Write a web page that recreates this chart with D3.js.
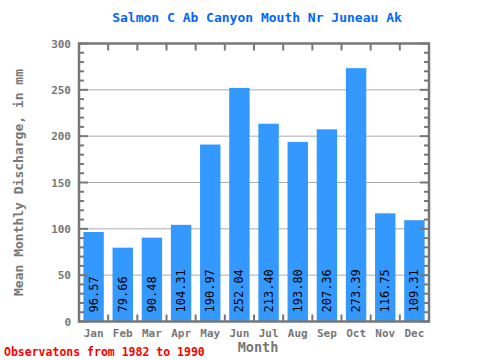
<!DOCTYPE html>
<html><head><meta charset="utf-8">
<script src="https://cdn.jsdelivr.net/npm/d3@7"></script>
<style>body{margin:0;background:#fff}svg{display:block}</style>
</head><body>
<script>
const months = ["Jan","Feb","Mar","Apr","May","Jun","Jul","Aug","Sep","Oct","Nov","Dec"];
const values = [96.57,79.66,90.48,104.31,190.97,252.04,213.40,193.80,207.36,273.39,116.75,109.31];
const yTicks = [0,50,100,150,200,250,300];
const title = "Salmon C Ab Canyon Mouth Nr Juneau Ak";
const yLabel = "Mean Monthly Discharge, in mm";
const xLabel = "Month";
const footer = "Observatons from 1982 to 1990";

const W = 480, H = 360;
const m = {l:79, r:429, t:43.5, b:321.5};
const font = "'DejaVu Sans Mono', monospace";
const grey = "#777";

const svg = d3.select("body").append("svg").attr("width", W).attr("height", H);
const x = d3.scaleBand().domain(months).range([m.l, m.r]).paddingInner(0.3).paddingOuter(0.15);
const xb = d3.scaleLinear().domain([0,12]).range([m.l, m.r]);
const y = d3.scaleLinear().domain([0,300]).range([m.b, m.t]);

// gridlines
svg.append("g").selectAll("line").data(yTicks.filter(d=>d>0 && d<300)).join("line")
  .attr("x1", m.l).attr("x2", m.r).attr("y1", d=>y(d)).attr("y2", d=>y(d))
  .attr("stroke", "#aaa").attr("stroke-width", 1);

// bars
svg.append("g").selectAll("rect").data(values).join("rect")
  .attr("x", (d,i)=>x(months[i])).attr("width", x.bandwidth())
  .attr("y", d=>y(d)).attr("height", d=>y(0)-y(d))
  .attr("fill", "#3399ff");

// bar labels
svg.append("g").selectAll("text").data(values).join("text")
  .attr("transform", (d,i)=>`translate(${x(months[i])+x.bandwidth()/2+4},${m.b-9}) rotate(-90)`)
  .attr("font-family", font).attr("font-size", 12).attr("fill", "#000")
  .attr("text-anchor", "start")
  .text(d=>d.toFixed(2));

// minor/major ticks on y axes
const minor = d3.range(0, 301, 10);
const tg = svg.append("g").attr("stroke", grey).attr("stroke-width", 2);
tg.selectAll(".lt").data(minor).join("line")
  .attr("x1", m.l).attr("x2", d=>m.l + (d%50===0?9:5))
  .attr("y1", d=>y(d)).attr("y2", d=>y(d));
tg.selectAll(".rt").data(minor).join("line")
  .attr("x1", m.r).attr("x2", d=>m.r - (d%50===0?9:5))
  .attr("y1", d=>y(d)).attr("y2", d=>y(d));
// month boundary ticks
const bounds = d3.range(1, 12);
tg.selectAll(".bt").data(bounds).join("line")
  .attr("x1", d=>xb(d)).attr("x2", d=>xb(d)).attr("y1", m.b).attr("y2", m.b-7);
tg.selectAll(".tt").data(bounds).join("line")
  .attr("x1", d=>xb(d)).attr("x2", d=>xb(d)).attr("y1", m.t).attr("y2", m.t+7);

// frame
svg.append("rect").attr("x", m.l).attr("y", m.t).attr("width", m.r-m.l).attr("height", m.b-m.t)
  .attr("fill", "none").attr("stroke", grey).attr("stroke-width", 2.5);

// y tick labels
svg.append("g").selectAll("text").data(yTicks).join("text")
  .attr("x", 71).attr("y", d=>y(d)+4)
  .attr("text-anchor", "end").attr("font-family", font).attr("font-size", 11)
  .attr("font-weight", "bold").attr("fill", grey).text(d=>d);

// x tick labels
svg.append("g").selectAll("text").data(months).join("text")
  .attr("x", d=>x(d)+x.bandwidth()/2).attr("y", 337)
  .attr("text-anchor", "middle").attr("font-family", font).attr("font-size", 11)
  .attr("font-weight", "bold").attr("fill", grey).text(d=>d);

// title
svg.append("text").attr("x", 257).attr("y", 22).attr("text-anchor", "middle")
  .attr("font-family", font).attr("font-size", 13).attr("font-weight", "bold")
  .attr("fill", "#0066ff").text(title);

// axis labels
svg.append("text").attr("transform", `translate(23,${(m.t+m.b)/2}) rotate(-90)`)
  .attr("text-anchor", "middle").attr("font-family", font).attr("font-size", 13)
  .attr("font-weight", "bold").attr("fill", grey).text(yLabel);
svg.append("text").attr("x", 258).attr("y", 352).attr("text-anchor", "middle")
  .attr("font-family", font).attr("font-size", 13.5).attr("font-weight", "bold")
  .attr("fill", grey).text(xLabel);

// footer
svg.append("text").attr("x", 4).attr("y", 356)
  .attr("font-family", font).attr("font-size", 11.5).attr("font-weight", "bold")
  .attr("fill", "#ff0000").text(footer);
</script>
</body></html>
